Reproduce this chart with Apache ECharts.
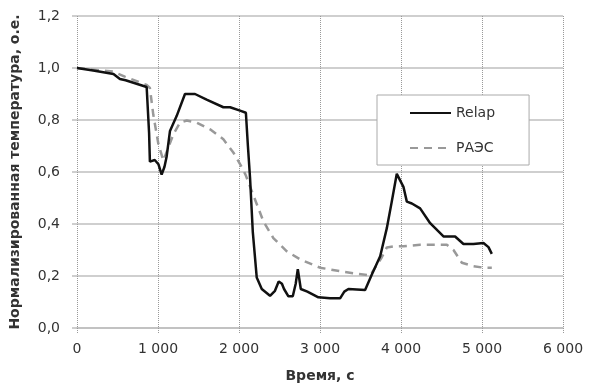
<!DOCTYPE html>
<html>
<head>
<meta charset="utf-8">
<script src="https://cdn.jsdelivr.net/npm/echarts@6/dist/echarts.min.js"></script>
<style>
  html, body { margin: 0; padding: 0; background: #fff; }
  #chart { width: 589px; height: 388px; }
</style>
</head>
<body>
<div id="chart"></div>
<script>
// Relap curve
var relapTime = [0, 200, 450, 530, 600, 860, 880, 890, 900, 960, 1005, 1045, 1080, 1107, 1148, 1230, 1333, 1457,
  1600, 1807, 1890, 2013, 2085, 2110, 2137, 2170, 2219, 2281, 2383, 2444, 2490, 2530, 2556, 2610, 2664, 2700,
  2726, 2763, 2844, 2980, 3125, 3248, 3300, 3351, 3557, 3640, 3743, 3825, 3886, 3948, 4030, 4072, 4134, 4236,
  4360, 4524, 4668, 4771, 4894, 5018, 5080, 5121];
var relapValue = [1.0, 0.99, 0.977, 0.958, 0.953, 0.927, 0.92, 0.75, 0.64, 0.646, 0.63, 0.59, 0.62, 0.66, 0.758,
  0.815, 0.9, 0.9, 0.878, 0.849, 0.849, 0.836, 0.828, 0.7, 0.574, 0.371, 0.194, 0.15, 0.124, 0.143, 0.179, 0.17,
  0.15, 0.122, 0.122, 0.17, 0.226, 0.15, 0.14, 0.118, 0.114, 0.114, 0.14, 0.15, 0.146, 0.206, 0.276, 0.384,
  0.486, 0.593, 0.543, 0.486, 0.479, 0.46, 0.403, 0.352, 0.352, 0.323, 0.323, 0.327, 0.311, 0.285];

// РАЭС curve
var raesTime = [0, 450, 590, 860, 900, 942, 1005, 1066, 1128, 1190, 1272, 1355, 1478, 1643, 1807, 1930, 2034,
  2080, 2177, 2301, 2424, 2590, 2754, 3000, 3290, 3618, 3760, 3825, 3907, 4030, 4236, 4566, 4648, 4751, 4894,
  5018, 5121];
var raesValue = [1.0, 0.986, 0.967, 0.935, 0.923, 0.82, 0.707, 0.644, 0.695, 0.745, 0.79, 0.798, 0.79, 0.764,
  0.726, 0.675, 0.619, 0.59, 0.511, 0.41, 0.346, 0.295, 0.264, 0.232, 0.216, 0.202, 0.27, 0.31, 0.314, 0.314,
  0.32, 0.32, 0.3, 0.251, 0.238, 0.232, 0.232];

var seriesNames = ['Relap', 'РАЭС'];

function pairs(xs, ys) {
  return xs.map(function (x, i) { return [x, ys[i]]; });
}

var font = 'DejaVu Sans';

var option = {
  animation: false,
  grid: { left: 77, right: 26, top: 16, bottom: 57 },
  legend: {
    orient: 'vertical',
    left: 377,
    top: 95,
    padding: [11, 34, 10, 32],
    itemWidth: 41,
    itemHeight: 14,
    itemGap: 21,
    backgroundColor: '#fff',
    borderColor: '#aaa',
    borderWidth: 1,
    itemStyle: { opacity: 0 },
    textStyle: { fontFamily: font, fontSize: 14, color: '#333' },
    data: seriesNames
  },
  xAxis: {
    type: 'value',
    min: 0,
    max: 6000,
    interval: 1000,
    name: 'Время, с',
    nameLocation: 'middle',
    nameGap: 41,
    nameTextStyle: { fontFamily: font, fontSize: 14, fontWeight: 'bold', color: '#333' },
    axisLine: { show: true, lineStyle: { color: '#bfbfbf', width: 1.5 } },
    axisTick: { show: true, length: 5, lineStyle: { color: '#999', type: 'dotted' } },
    axisLabel: {
      margin: 14,
      fontFamily: font, fontSize: 14, color: '#333',
      formatter: function (v) { return v >= 1000 ? Math.floor(v / 1000) + ' ' + ('00' + (v % 1000)).slice(-3) : String(v); }
    },
    splitLine: { show: true, lineStyle: { color: '#999', type: 'dotted', width: 1 } }
  },
  yAxis: {
    type: 'value',
    min: 0,
    max: 1.2,
    interval: 0.2,
    name: 'Нормализированная температура, о.е.',
    nameLocation: 'middle',
    nameGap: 55,
    nameTextStyle: { fontFamily: font, fontSize: 14, fontWeight: 'bold', color: '#333' },
    axisLine: { show: false },
    axisTick: { show: true, length: 5, lineStyle: { color: '#bfbfbf', width: 1.5 } },
    axisLabel: {
      margin: 17,
      fontFamily: font, fontSize: 14, color: '#333',
      formatter: function (v) { return v.toFixed(1).replace('.', ','); }
    },
    splitLine: { show: true, lineStyle: { color: '#bfbfbf', width: 1.5 } }
  },
  series: [
    {
      name: seriesNames[0],
      type: 'line',
      symbol: 'none',
      data: pairs(relapTime, relapValue),
      lineStyle: { color: '#111', width: 2.5 },
      itemStyle: { color: '#111' },
      z: 3
    },
    {
      name: seriesNames[1],
      type: 'line',
      symbol: 'none',
      data: pairs(raesTime, raesValue),
      lineStyle: { color: '#999', width: 2.5, type: [8, 6] },
      itemStyle: { color: '#999' },
      z: 2
    }
  ]
};

var myChart = echarts.init(document.getElementById('chart'));
myChart.setOption(option);
</script>
</body>
</html>
